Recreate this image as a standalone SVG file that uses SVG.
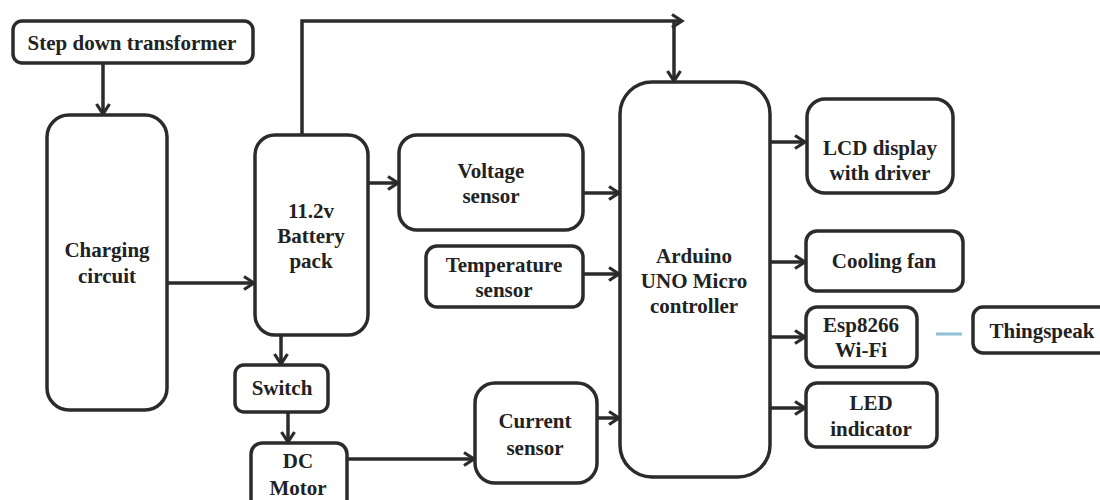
<svg xmlns="http://www.w3.org/2000/svg" width="1100" height="500" viewBox="0 0 1100 500">
<defs>
<style>
.box{fill:#fff;stroke:#2b2b2b;stroke-width:3.5}
.ln{fill:none;stroke:#2b2b2b;stroke-width:3.5}
text{font-family:"Liberation Serif","Times New Roman",serif;font-weight:bold;font-size:21px;fill:#222;text-anchor:middle}
</style>
<marker id="ah" markerUnits="userSpaceOnUse" markerWidth="16" markerHeight="16" viewBox="0 0 16 16" refX="13" refY="8" orient="auto">
<path d="M3,1.5 L13,8 L3,14.5" fill="none" stroke="#2b2b2b" stroke-width="3.2"/>
</marker>
</defs>
<rect width="1100" height="500" fill="#fff"/>
<g id="connectors">
<line class="ln" x1="103" y1="63" x2="103" y2="114" marker-end="url(#ah)"/>
<line class="ln" x1="167" y1="283" x2="254" y2="283" marker-end="url(#ah)"/>
<polyline class="ln" points="302,135 302,21 682,21" marker-end="url(#ah)"/>
<line class="ln" x1="674" y1="21" x2="674" y2="81" marker-end="url(#ah)"/>
<line class="ln" x1="368" y1="183" x2="398" y2="183" marker-end="url(#ah)"/>
<line class="ln" x1="583" y1="193" x2="619" y2="193" marker-end="url(#ah)"/>
<line class="ln" x1="583" y1="274" x2="619" y2="274" marker-end="url(#ah)"/>
<line class="ln" x1="597" y1="418" x2="619" y2="418" marker-end="url(#ah)"/>
<line class="ln" x1="281" y1="335" x2="281" y2="364" marker-end="url(#ah)"/>
<line class="ln" x1="288" y1="412" x2="288" y2="442" marker-end="url(#ah)"/>
<line class="ln" x1="347" y1="459" x2="474" y2="459" marker-end="url(#ah)"/>
<line class="ln" x1="770" y1="142" x2="805" y2="142" marker-end="url(#ah)"/>
<line class="ln" x1="770" y1="262" x2="805" y2="262" marker-end="url(#ah)"/>
<line class="ln" x1="770" y1="337" x2="805" y2="337" marker-end="url(#ah)"/>
<line class="ln" x1="770" y1="408" x2="805" y2="408" marker-end="url(#ah)"/>
<line x1="936" y1="334" x2="962" y2="334" stroke="#8fbfd6" stroke-width="3"/>
</g>
<g id="step-down">
<rect class="box" x="13" y="21" width="240" height="42" rx="9"/>
<text x="132" y="50">Step down transformer</text>
</g>
<g id="charging">
<rect class="box" x="47" y="115" width="120" height="295" rx="22"/>
<text x="107" y="257">Charging</text>
<text x="107" y="283">circuit</text>
</g>
<g id="battery">
<rect class="box" x="255" y="135" width="113" height="200" rx="20"/>
<text x="311" y="218">11.2v</text>
<text x="311" y="243">Battery</text>
<text x="311" y="268">pack</text>
</g>
<g id="voltage">
<rect class="box" x="399" y="135" width="184" height="95" rx="18"/>
<text x="491" y="178">Voltage</text>
<text x="491" y="203">sensor</text>
</g>
<g id="temperature">
<rect class="box" x="426" y="246" width="157" height="61" rx="11"/>
<text x="504" y="272">Temperature</text>
<text x="504" y="297">sensor</text>
</g>
<g id="switch">
<rect class="box" x="235" y="365" width="93" height="47" rx="9"/>
<text x="282" y="395">Switch</text>
</g>
<g id="dc-motor">
<rect class="box" x="251" y="443" width="96" height="70" rx="11"/>
<text x="298" y="468">DC</text>
<text x="298" y="495">Motor</text>
</g>
<g id="current">
<rect class="box" x="475" y="383" width="122" height="100" rx="20"/>
<text x="535" y="428">Current</text>
<text x="535" y="455">sensor</text>
</g>
<g id="arduino">
<rect class="box" x="620" y="82" width="150" height="395" rx="32"/>
<text x="694" y="263">Arduino</text>
<text x="694" y="288">UNO Micro</text>
<text x="694" y="313">controller</text>
</g>
<g id="lcd">
<rect class="box" x="807" y="99" width="146" height="94" rx="18"/>
<text x="880" y="155">LCD display</text>
<text x="880" y="180">with driver</text>
</g>
<g id="cooling-fan">
<rect class="box" x="806" y="231" width="157" height="60" rx="11"/>
<text x="884" y="268">Cooling fan</text>
</g>
<g id="esp8266">
<rect class="box" x="806" y="307" width="111" height="60" rx="11"/>
<text x="861" y="332">Esp8266</text>
<text x="861" y="357">Wi-Fi</text>
</g>
<g id="led">
<rect class="box" x="806" y="383" width="131" height="64" rx="11"/>
<text x="871" y="410">LED</text>
<text x="871" y="436">indicator</text>
</g>
<g id="thingspeak">
<rect class="box" x="973" y="307" width="140" height="46" rx="10"/>
<text x="1042" y="338">Thingspeak</text>
</g>
</svg>
